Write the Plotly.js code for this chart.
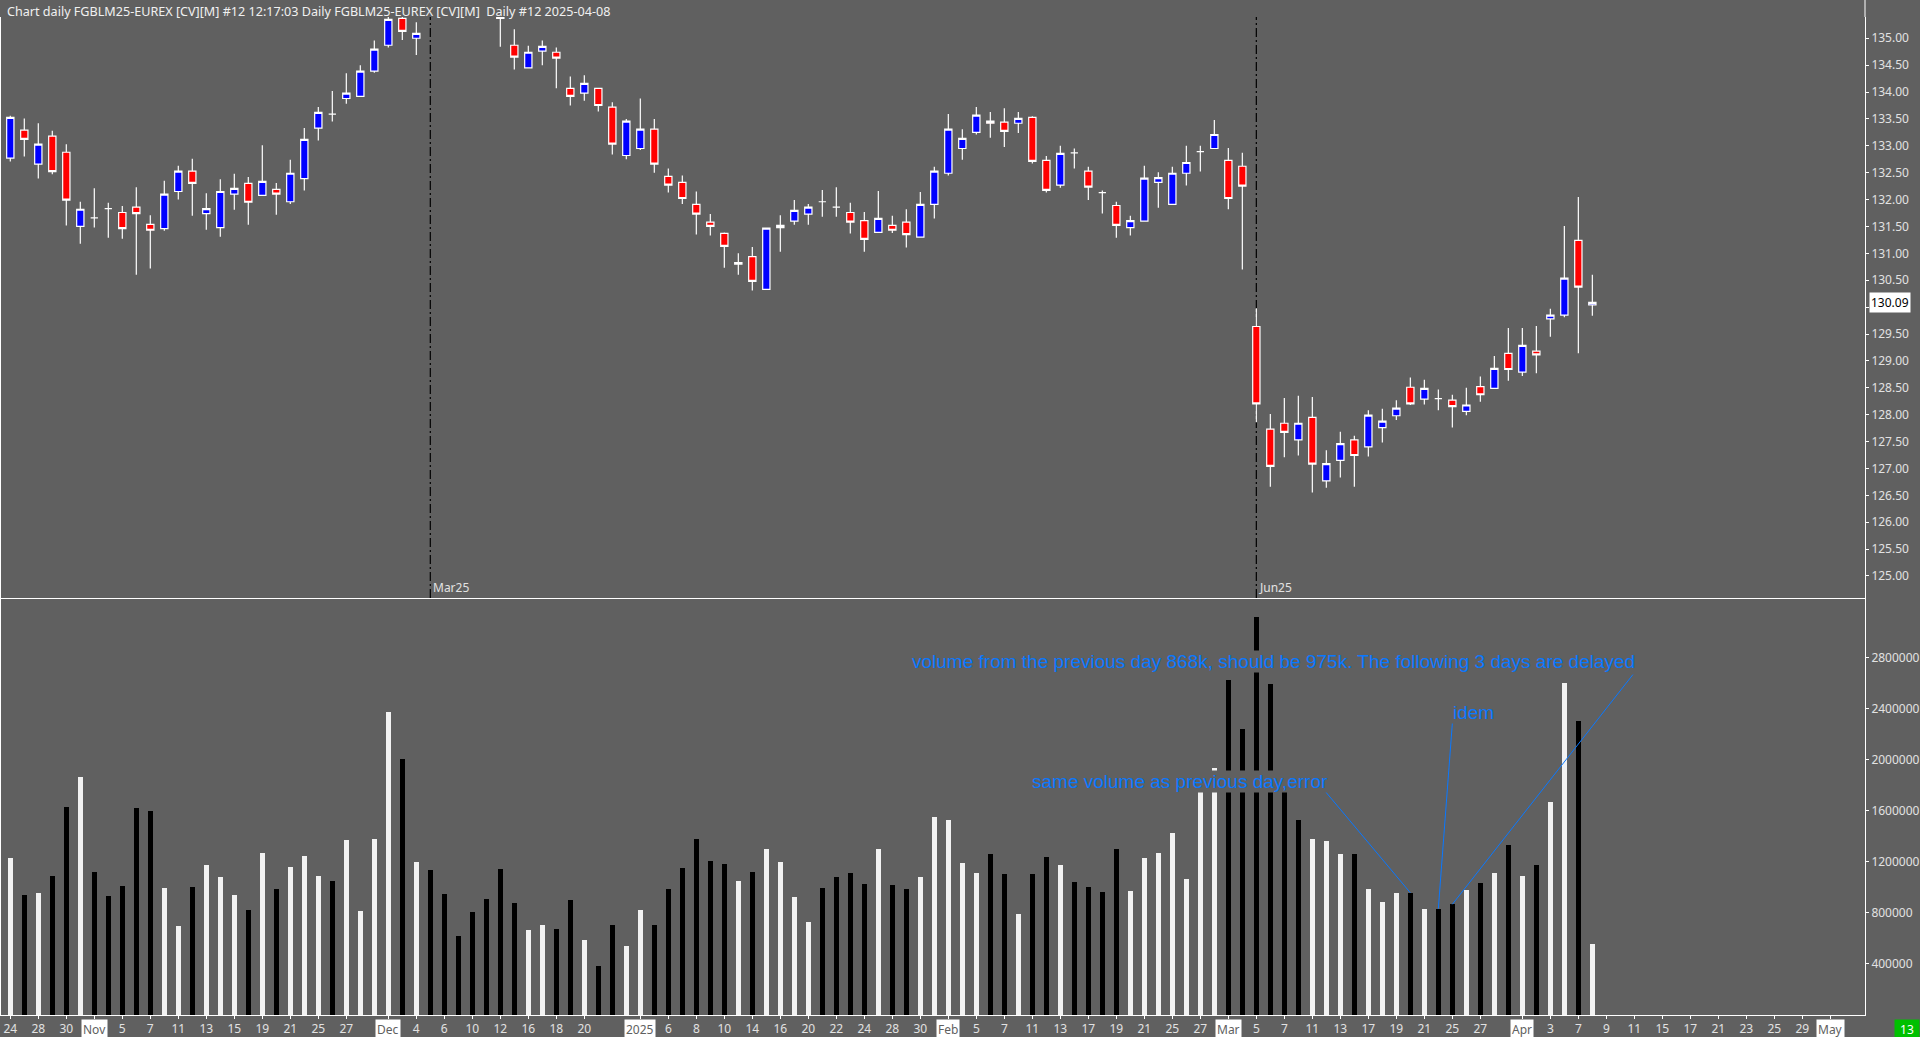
<!DOCTYPE html>
<html>
<head>
<meta charset="utf-8">
<script src="https://cdn.plot.ly/plotly-3.0.1.min.js"></script>
<style>
html,body{margin:0;padding:0;background:#606060;overflow:hidden}
#chart{width:1920px;height:1037px}
</style>
</head>
<body>
<div id="chart"></div>
<script>
// ---- data (daily bars, 24 Oct 2024 .. 8 Apr 2025, one slot per trading day) ----
const openP = [132.77,133.29,132.66,133.18,132.88,131.50,131.66,131.83,131.76,131.86,
131.54,131.46,132.15,132.53,131.74,131.48,132.10,132.30,132.08,132.19,
131.96,132.39,133.33,133.59,133.88,133.92,134.39,134.87,135.37,135.00,
136.10,136.20,136.30,136.25,136.00,135.55,134.87,134.45,134.76,134.74,
134.07,133.98,134.07,133.72,132.82,132.95,133.31,132.43,132.32,131.91,
131.58,131.37,130.80,130.94,130.33,131.48,131.60,131.73,131.96,131.86,
131.76,131.61,131.39,131.52,131.58,131.30,131.91,132.49,132.95,133.25,
133.46,133.44,133.42,133.53,132.73,132.27,132.87,132.53,132.13,131.89,
131.48,131.60,132.32,131.91,132.49,132.89,132.95,132.73,132.62,129.64,
127.73,127.84,127.53,127.95,126.77,127.15,127.53,127.40,127.76,127.98,
128.51,128.29,128.30,128.27,128.06,128.52,128.49,129.14,128.79,129.18,
129.78,129.85,131.24,130.04];
const highP = [133.56,133.51,133.42,133.28,133.03,131.96,132.21,131.94,131.88,132.23,
131.71,132.35,132.63,132.76,132.12,132.38,132.48,132.42,133.01,132.31,
132.74,133.33,133.72,134.02,134.35,134.50,134.96,135.45,135.43,135.30,
136.35,136.45,136.55,136.45,136.20,135.70,135.17,134.86,134.96,134.83,
134.29,134.31,134.08,133.81,133.50,133.88,133.50,132.58,132.45,132.15,
131.73,131.39,131.00,131.12,131.48,131.71,131.99,131.92,132.18,132.23,
131.94,131.77,132.16,131.70,131.82,132.14,132.61,133.59,133.31,133.72,
133.63,133.70,133.63,133.55,132.81,133.00,132.95,132.61,132.17,131.96,
131.70,132.63,132.51,132.61,133.00,133.00,133.48,132.96,132.87,129.98,
128.01,128.31,128.35,128.33,127.34,127.68,127.61,128.08,128.11,128.27,
128.69,128.65,128.47,128.37,128.50,128.71,129.09,129.61,129.61,129.65,
129.97,131.51,132.05,130.60];
const lowP = [132.71,132.80,132.39,132.47,131.52,131.18,131.48,131.29,131.27,130.60,
130.72,131.42,132.00,131.70,131.44,131.31,131.81,131.53,132.07,131.72,
131.92,132.17,133.10,133.45,133.78,133.91,134.36,134.83,134.97,134.69,
135.75,135.85,136.00,135.90,135.55,134.84,134.42,134.44,134.50,134.07,
133.75,133.84,133.64,132.84,132.75,132.92,132.50,132.13,131.92,131.35,
131.33,130.73,130.60,130.31,130.32,131.03,131.53,131.53,131.68,131.68,
131.37,131.03,131.38,131.38,131.11,131.29,131.65,132.45,132.74,133.21,
133.15,132.98,133.24,132.67,132.13,132.22,132.58,131.99,131.74,131.29,
131.33,131.60,131.85,131.91,132.26,132.52,132.95,131.82,130.70,127.86,
126.66,127.21,127.24,126.55,126.64,126.83,126.66,127.22,127.48,127.90,
128.18,128.19,128.08,127.76,127.99,128.24,128.48,128.63,128.72,128.77,
129.45,129.81,129.14,129.84];
const closeP = [133.53,133.12,133.03,132.52,131.99,131.82,131.66,131.83,131.46,131.74,
131.43,132.10,132.53,132.30,131.83,132.15,132.21,131.95,132.34,132.10,
132.49,133.12,133.62,133.59,133.98,134.39,134.80,135.35,135.13,135.09,
135.90,136.05,136.15,136.05,135.70,135.37,134.65,134.74,134.85,134.63,
133.92,134.16,133.75,133.03,133.46,133.31,132.66,132.27,132.02,131.73,
131.50,131.13,130.83,130.48,131.47,131.52,131.80,131.86,131.96,131.86,
131.58,131.26,131.65,131.43,131.35,131.91,132.53,133.31,133.14,133.57,
133.42,133.27,133.51,132.71,132.17,132.86,132.87,132.23,132.13,131.52,
131.61,132.40,132.41,132.49,132.69,132.89,133.21,132.02,132.25,128.20,
127.04,127.67,127.84,127.08,127.09,127.46,127.24,127.99,127.88,128.12,
128.20,128.49,128.30,128.15,128.18,128.37,128.86,128.84,129.29,129.11,
129.85,130.54,130.37,130.09];
const volume = [1234000,944000,959000,1093000,1634000,1869000,1124000,936000,1014000,1626000,
1603000,999000,701000,1007000,1179000,1085000,944000,826000,1273000,991000,
1163000,1250000,1093000,1054000,1375000,818000,1383000,2379000,2010000,1203000,
1140000,952000,622000,810000,912000,1148000,881000,669000,708000,677000,
905000,591000,387000,708000,544000,826000,708000,991000,1156000,1383000,
1210000,1187000,1054000,1124000,1305000,1203000,928000,732000,999000,1085000,
1116000,1030000,1305000,1022000,991000,1085000,1556000,1532000,1195000,1116000,
1265000,1108000,795000,1108000,1242000,1179000,1046000,1007000,967000,1305000,
975000,1234000,1273000,1430000,1069000,1820000,1940000,2630000,2246000,3124000,
2599000,1850000,1532000,1383000,1367000,1265000,1265000,991000,889000,959000,
959000,834000,834000,868000,983000,1038000,1116000,1336000,1093000,1179000,
1673000,2606000,2308000,559000];
// 1 = light volume bar, 0 = dark volume bar (as printed on the chart)
const volUp = [1,0,1,0,0,1,0,0,0,0, 0,1,1,0,1,1,1,0,1,0,
1,1,1,0,1,1,1,1,0,1, 0,0,0,0,0,0,0,1,1,0,
0,1,0,0,1,1,0,0,0,0, 0,0,1,0,1,1,1,1,0,0,
0,0,1,0,0,1,1,1,1,1, 0,0,1,0,0,1,0,0,0,0,
1,1,1,1,1,1,1,0,0,0, 0,0,0,1,1,1,0,1,1,1,
0,1,0,0,1,0,1,0,1,0, 1,1,0,1];

const tickIdx = [0,2,4,6,8,10,12,14,16,18,20,22,24,27,29,31,33,35,37,39,41,45,47,49,51,53,55,57,59,61,63,65,67,69,71,73,75,77,79,81,83,85,87,89,91,93,95,97,99,101,103,105,108,110,112,114,116,118,120,122,124,126,128,130];
const tickText = ['24','28','30','Nov','5','7','11','13','15','19','21','25','27','Dec','4','6','10','12','16','18','20','2025','6','8','10','14','16','20','22','24','28','30','Feb','5','7','11','13','17','19','21','25','27','Mar','5','7','11','13','17','19','21','25','27','Apr','3','7','9','11','15','17','21','23','25','29','May'];
const monthNames = ['Nov','Dec','2025','Feb','Mar','Apr','May'];

const rollIdx = [30, 89];
const rollText = ['Mar25', 'Jun25'];

const priceTicks = [125,125.5,126,126.5,127,127.5,128,128.5,129,129.5,130,130.5,131,131.5,132,132.5,133,133.5,134,134.5,135];
const volTicks = [400000,800000,1200000,1600000,2000000,2400000,2800000];

const titleText = 'Chart daily FGBLM25-EUREX [CV][M] #12 12:17:03 Daily FGBLM25-EUREX [CV][M]  Daily #12 2025-04-08';
const noteTexts = ['volume from the previous day 868k, should be 975k. The following 3 days are delayed', 'idem', 'same volume as previous day,error'];
const noteTargets = [103, 102, 100];
const cornerText = '13';

// ---- build ----
const dayIdx = openP.map((_, i) => i);
const BG = '#606060';
const FG = '#e2e2e2';
const UIFONT = 'Noto Sans, Open Sans, sans-serif';
const NOTEFONT = 'Liberation Sans, Arial, sans-serif';
const NOTECOL = '#0a78ff';
const SPLIT = 0.41784;
const XR = [-0.664, 132.475];

const candles = {
  type: 'candlestick', x: dayIdx, open: openP, high: highP, low: lowP, close: closeP,
  xaxis: 'x', yaxis: 'y', whiskerwidth: 0, hoverinfo: 'skip', showlegend: false,
  increasing: {line: {color: '#ffffff', width: 1.2}, fillcolor: '#0000ff'},
  decreasing: {line: {color: '#ffffff', width: 1.2}, fillcolor: '#ff0000'}
};
const vols = {
  type: 'bar', x: dayIdx, y: volume, xaxis: 'x2', yaxis: 'y2', width: 0.34,
  marker: {color: volUp.map(u => u ? '#f2f2f2' : '#000000'), line: {width: 0}},
  hoverinfo: 'skip', showlegend: false
};

const lastClose = closeP[closeP.length - 1];

const annotations = [];
annotations.push({xref: 'paper', yref: 'paper', x: 0, y: 1, xanchor: 'left', yanchor: 'middle',
  xshift: 4, yshift: 6, text: titleText, showarrow: false, font: {family: UIFONT, size: 12.6, color: '#f0f0f0'}});
tickIdx.forEach((ix, k) => {
  if (monthNames.includes(tickText[k])) {
    annotations.push({xref: 'x2', yref: 'paper', x: ix, y: 0, yanchor: 'top', xanchor: 'center', yshift: -4,
      text: tickText[k], showarrow: false, bgcolor: '#ffffff', borderpad: 1,
      font: {family: UIFONT, size: 12, color: '#606060'}});
  }
});
rollIdx.forEach((ix, k) => {
  annotations.push({xref: 'x', yref: 'paper', x: ix, y: SPLIT, xanchor: 'left', yanchor: 'middle',
    xshift: 1, yshift: 10, text: rollText[k], showarrow: false, font: {family: UIFONT, size: 12, color: FG}});
});
annotations.push({xref: 'paper', yref: 'y', x: 1, y: lastClose, xanchor: 'left', yanchor: 'middle', xshift: 4,
  text: lastClose.toFixed(2), showarrow: false, bgcolor: '#ffffff', borderpad: 1,
  font: {family: UIFONT, size: 12, color: '#000000'}});
annotations.push({xref: 'paper', yref: 'paper', x: 1, y: 0, xanchor: 'right', yanchor: 'top', xshift: 55, yshift: -4,
  text: cornerText, showarrow: false, bgcolor: '#00c000', borderpad: 1, width: 22,
  font: {family: UIFONT, size: 12, color: '#ffffff'}});
// notes
const notePos = [
  {x: 64.34, y: 2770000, lx: 115.9, ly: 2670000},
  {x: 102.95, y: 2374000, lx: 103.0, ly: 2287000},
  {x: 72.89, y: 1835000, lx: 93.96, ly: 1749000}
];
const shapes = [];
noteTexts.forEach((t, k) => {
  const p = notePos[k];
  annotations.push({xref: 'x2', yref: 'y2', x: p.x, y: p.y, xanchor: 'left', yanchor: 'middle',
    text: t, showarrow: false, bgcolor: BG, borderpad: 0,
    font: {family: NOTEFONT, size: 19, color: NOTECOL}});
  shapes.push({type: 'line', xref: 'x2', yref: 'y2', x0: p.lx, y0: p.ly,
    x1: noteTargets[k], y1: volume[noteTargets[k]], line: {color: NOTECOL, width: 1}});
});
rollIdx.forEach(ix => {
  shapes.push({type: 'line', layer: 'below', xref: 'x', yref: 'paper', x0: ix, x1: ix, y0: SPLIT, y1: 1,
    line: {color: '#000000', width: 1.2, dash: '9px,3px,2px,3px'}});
});
shapes.push({type: 'line', xref: 'paper', yref: 'paper', x0: 1, x1: 1, y0: 1, y1: 1.02,
  line: {color: '#ffffff', width: 1}});

const axBase = {showgrid: false, zeroline: false, linecolor: '#ffffff', linewidth: 1, fixedrange: true,
  tickcolor: '#ffffff', tickfont: {family: UIFONT, size: 12, color: FG}};

// the price-tick label hidden behind the last-price box is left blank
const priceTickText = priceTicks.map(v => Math.abs(v - lastClose) < 0.25 ? '' : v.toFixed(2));

const layout = {
  width: 1920, height: 1037,
  margin: {l: 1, r: 55, t: 17, b: 22, pad: 0},
  paper_bgcolor: BG, plot_bgcolor: BG,
  showlegend: false, hovermode: false,
  boxgap: 0.48, boxgroupgap: 0, bargap: 0,
  xaxis: Object.assign({}, axBase, {domain: [0, 1], anchor: 'y', range: XR, showticklabels: false,
    ticks: '', showline: true, rangeslider: {visible: false}}),
  xaxis2: Object.assign({}, axBase, {domain: [0, 1], anchor: 'y2', range: XR, showline: true,
    tickmode: 'array', tickvals: tickIdx,
    ticktext: tickText.map(t => monthNames.includes(t) ? ' ' : t),
    ticks: 'outside', ticklen: 3}),
  yaxis: Object.assign({}, axBase, {domain: [SPLIT, 1], anchor: 'x', side: 'right',
    range: [124.5903, 135.3956], tickmode: 'array', tickvals: priceTicks, ticktext: priceTickText,
    ticks: 'outside', ticklen: 3, showline: true, mirror: true}),
  yaxis2: Object.assign({}, axBase, {domain: [0, SPLIT], anchor: 'x2', side: 'right',
    range: [0, 3270600], tickmode: 'array', tickvals: volTicks, tickformat: 'd',
    ticks: 'outside', ticklen: 3, showline: true, mirror: true}),
  annotations: annotations,
  shapes: shapes
};

Plotly.newPlot('chart', [candles, vols], layout, {displayModeBar: false, staticPlot: true});
</script>
</body>
</html>
